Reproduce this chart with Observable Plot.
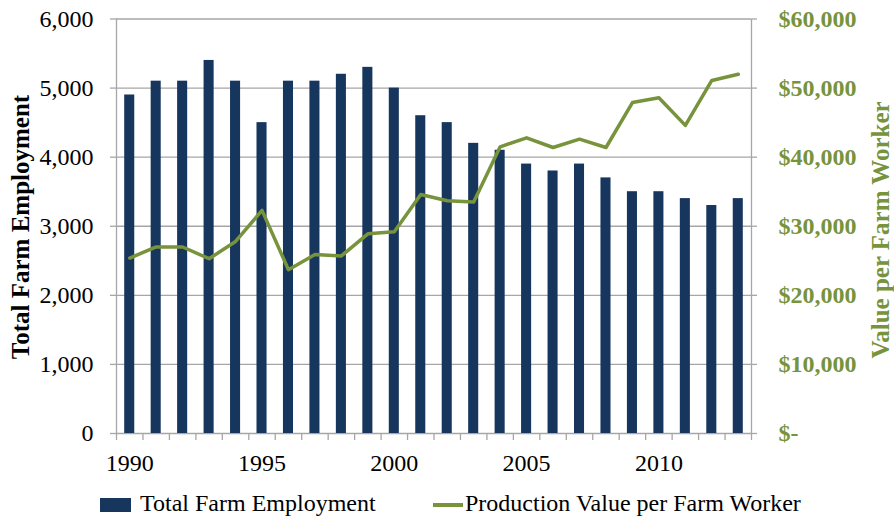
<!DOCTYPE html>
<html><head><meta charset="utf-8">
<script src="https://cdn.jsdelivr.net/npm/d3@7"></script>
<script src="https://cdn.jsdelivr.net/npm/@observablehq/plot@0.6"></script>
<style>
body{margin:0;background:#fff;font-family:"Liberation Serif","Times New Roman",serif;width:894px;height:519px;position:relative;overflow:hidden;}
#chart svg{display:block;}
.lg{position:absolute;font-size:24px;line-height:24px;color:#000;white-space:nowrap;}
</style></head><body>
<div id="chart"></div>
<div class="lg" style="left:100px;top:498px;width:31px;height:14px;background:#17365D;"></div>
<div class="lg" style="left:140px;top:491px;">Total Farm Employment</div>
<div class="lg" style="left:433px;top:503px;width:30px;height:3.5px;background:#77933C;"></div>
<div class="lg" style="left:465px;top:491px;">Production Value per Farm Worker</div>
<script>
const years = [1990,1991,1992,1993,1994,1995,1996,1997,1998,1999,2000,2001,2002,2003,2004,2005,2006,2007,2008,2009,2010,2011,2012,2013];
const employment = [4900,5100,5100,5400,5100,4500,5100,5100,5200,5300,5000,4600,4500,4200,4100,3900,3800,3900,3700,3500,3500,3400,3300,3400];
const valuePerWorker = [25400,27000,27000,25300,27800,32300,23700,25900,25700,28900,29200,34600,33700,33500,41500,42800,41400,42600,41400,47900,48600,44600,51100,52000];
const leftTicks = [0,1000,2000,3000,4000,5000,6000];
const rightTicks = [0,10000,20000,30000,40000,50000,60000];
const xLabelYears = [1990,1995,2000,2005,2010];
const leftTitle = "Total Farm Employment";
const rightTitle = "Value per Farm Worker";

const ratio = 10;
const data = years.map((y,i)=>({year:y, employment:employment[i], value:valuePerWorker[i]}));
const boundaries = years.map(y=>y-0.5).concat([years[years.length-1]+0.5]);
const grey = "#a6a6a6";
const navy = "#17365D";
const green = "#77933C";

const chart = Plot.plot({
  width: 894, height: 480,
  marginLeft: 116, marginRight: 143, marginTop: 18.5, marginBottom: 47,
  style: {fontFamily: "'Liberation Serif','Times New Roman',serif", fontSize: "24px", background: "white", color: "black", overflow: "visible"},
  x: {type: "linear", domain: [boundaries[0], boundaries[boundaries.length-1]]},
  y: {domain: [0, 6000]},
  marks: [
    Plot.ruleY(leftTicks, {stroke: grey, strokeWidth: 1.3}),
    Plot.ruleX([boundaries[0], boundaries[boundaries.length-1]], {stroke: grey, strokeWidth: 1.3}),
    Plot.rectY(data, {x1: d => d.year - 0.19, x2: d => d.year + 0.19, y: "employment", fill: navy}),
    Plot.lineY(data, {x: "year", y: d => d.value / ratio, stroke: green, strokeWidth: 3.5}),
    Plot.axisX({ticks: boundaries, tickFormat: () => "", tickSize: 7, stroke: grey, strokeWidth: 1.3, label: null}),
    Plot.axisX({ticks: xLabelYears, tickFormat: d => String(d), tickSize: 0, tickPadding: 20, fill: "black", fontSize: 24, label: null}),
    Plot.axisY({ticks: leftTicks, tickFormat: d3.format(","), tickSize: 6, tickPadding: 17, stroke: grey, strokeWidth: 1.3, fill: "black", fontSize: 24, label: null}),
    Plot.axisY({anchor: "right", ticks: rightTicks.map(v => v / ratio), tickFormat: d => d === 0 ? "$-" : "$" + d3.format(",")(d * ratio), tickSize: 5, tickPadding: 22, stroke: grey, strokeWidth: 1.3, fill: green, fontWeight: "bold", fontSize: 24, label: null})
  ]
});
const svg = d3.select(chart);
svg.append("text").text(leftTitle)
  .attr("transform", "translate(29,227) rotate(-90)")
  .attr("text-anchor", "middle").attr("font-weight", "bold").attr("font-size", 25).attr("fill", "black");
svg.append("text").text(rightTitle)
  .attr("transform", "translate(889,230) rotate(-90)")
  .attr("text-anchor", "middle").attr("font-weight", "bold").attr("font-size", 25).attr("fill", green);
document.getElementById("chart").appendChild(chart);
</script>
</body></html>
